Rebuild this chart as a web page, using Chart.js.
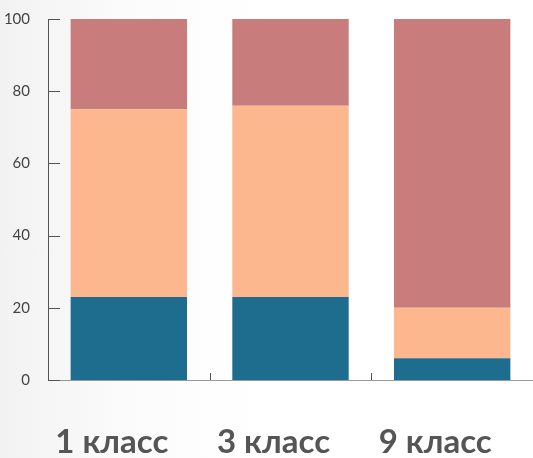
<!DOCTYPE html>
<html>
<head>
<meta charset="utf-8">
<script src="https://cdn.jsdelivr.net/npm/chart.js@4/dist/chart.umd.min.js"></script>
<style>
    html, body {
        margin: 0;
        padding: 0;
        background: linear-gradient(to right, #f2f2f2 0px, #fbfbfb 120px, #ffffff 260px);
    }
    #wrap {
        width: 533px;
        height: 458px;
    }
</style>
</head>
<body>
<div id="wrap">
    <canvas id="gradeChart" width="533" height="458"></canvas>
</div>
<script>

// ================= DATA =================

const categories = ["1 класс", "3 класс", "9 класс"];

const lowValues = [23, 23, 6];

const midValues = [52, 53, 14];

const highValues = [25, 24, 80];

const yTicks = [0, 20, 40, 60, 80, 100];


// ================= TICK MARKS PLUGIN =================

const innerTicks = {

    id: "innerTicks",

    afterDraw(chart) {

        const ctx = chart.ctx;
        const y = chart.scales.y;
        const x = chart.scales.x;
        const area = chart.chartArea;

        ctx.save();
        ctx.strokeStyle = "#555";
        ctx.lineWidth = 1;

        yTicks.forEach(function (v) {
            const py = Math.round(y.getPixelForValue(v)) + 0.5;
            ctx.beginPath();
            ctx.moveTo(area.left, py);
            ctx.lineTo(area.left + 12, py);
            ctx.stroke();
        });

        for (let i = 1; i < categories.length; i++) {
            const px = Math.round((x.getPixelForValue(i - 1) + x.getPixelForValue(i)) / 2) + 0.5;
            ctx.beginPath();
            ctx.moveTo(px, area.bottom);
            ctx.lineTo(px, area.bottom - 7);
            ctx.stroke();
        }

        ctx.restore();

    }

};


// ================= BAR CHART =================

const gradeChart = document.getElementById("gradeChart");

if (gradeChart) {

    new Chart(gradeChart, {

        type: "bar",

        data: {

            labels: categories,

            datasets: [
                {
                    data: lowValues,
                    backgroundColor: "#1f6d8e"
                },
                {
                    data: midValues,
                    backgroundColor: "#fdb78f"
                },
                {
                    data: highValues,
                    backgroundColor: "#c97c7c"
                }
            ]

        },

        options: {

            responsive: false,

            animation: false,

            layout: {
                padding: { top: 16, right: 0, bottom: 0, left: 0 }
            },

            datasets: {
                bar: {
                    categoryPercentage: 1,
                    barPercentage: 0.72
                }
            },

            plugins: {
                legend: { display: false },
                tooltip: { enabled: false }
            },

            scales: {

                x: {
                    stacked: true,
                    grid: { display: false },
                    border: { color: "#999", width: 1 },
                    ticks: {
                        color: "#555",
                        padding: 35,
                        labelOffset: -17,
                        font: { family: "Lato, sans-serif", size: 33, weight: "bold" }
                    },
                    afterFit(scale) {
                        scale.height = 78;
                        scale.paddingLeft = 0;
                        scale.paddingRight = 0;
                    }
                },

                y: {
                    stacked: true,
                    min: 0,
                    max: 100,
                    afterBuildTicks(scale) {
                        scale.ticks = yTicks.map(function (v) { return { value: v }; });
                    },
                    grid: { display: false },
                    border: { color: "#555", width: 1 },
                    ticks: {
                        color: "#444",
                        padding: 10,
                        font: { family: "Lato, sans-serif", size: 15 }
                    },
                    afterFit(scale) {
                        scale.width = 48;
                    }
                }

            }

        },

        plugins: [innerTicks]

    });

}

</script>
</body>
</html>
